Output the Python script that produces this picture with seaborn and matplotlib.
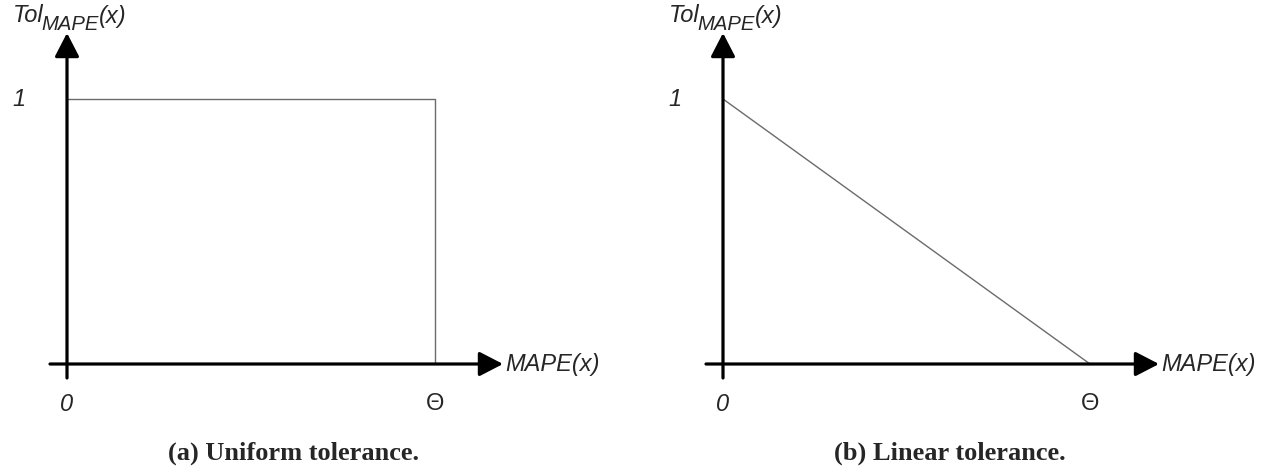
import matplotlib
matplotlib.use("Agg")
import matplotlib.pyplot as plt
from matplotlib.patches import FancyArrowPatch
import numpy as np
import pandas as pd
import seaborn as sns

sns.set_theme(style="white")
plt.rcParams["font.family"] = ["Liberation Sans", "DejaVu Sans"]

# Tolerance functions, MAPE expressed as a fraction of the threshold Θ
uniform_x = [0.0, 1.0, 1.0]
uniform_y = [1.0, 1.0, 0.0]
linear_x = [0.0, 1.0]
linear_y = [1.0, 0.0]

captions = ["(a) Uniform tolerance.", "(b) Linear tolerance."]
y_label_parts = ["Tol", "MAPE", "(x)"]
x_label = "MAPE(x)"
tick_zero = "0"
tick_theta = "Θ"
tick_one = "1"

W, H = 1278, 473
fig = plt.figure(figsize=(W / 100, H / 100), dpi=100)
renderer = fig.canvas.get_renderer()

LINE_COLOR = "#6b6b6b"
FS = 17


def px_text(x, y, s, **kw):
    """Place text at a pixel position measured from the top-left corner."""
    return fig.text(x / W, 1 - y / H, s, **kw)


def axis_title(x_px):
    # "Tol" with a large subscript "MAPE", followed by "(x)"
    t1 = px_text(x_px, 22, y_label_parts[0], fontsize=FS, style="italic",
                 va="baseline", ha="left")
    w1 = t1.get_window_extent(renderer).width
    t2 = px_text(x_px + w1 - 2, 30, y_label_parts[1], fontsize=FS * 0.86,
                 style="italic", va="baseline", ha="left")
    w2 = t2.get_window_extent(renderer).width
    px_text(x_px + w1 + w2 - 2, 23, y_label_parts[2], fontsize=FS,
            style="italic", va="baseline", ha="left")


def panel(x0_px, theta_px, xs, ys, caption, caption_x):
    y0_px, y1_px = 364, 99
    ax = fig.add_axes([x0_px / W, (H - y0_px) / H,
                       (theta_px - x0_px) / W, (y0_px - y1_px) / H])
    ax.set_xlim(0, 1)
    ax.set_ylim(0, 1)
    ax.axis("off")
    sx = theta_px - x0_px
    sy = y0_px - y1_px

    df = pd.DataFrame({"x": xs, "y": ys})
    sns.lineplot(data=df, x="x", y="y", sort=False, estimator=None, ax=ax,
                 color=LINE_COLOR, linewidth=1.0, clip_on=False)

    # coordinate axes with arrowheads
    style = "-|>,head_length=14.5,head_width=7.5"
    xa = FancyArrowPatch((-17 / sx, 0), (436 / sx, 0),
                         arrowstyle=style, mutation_scale=1, lw=2.3,
                         color="black", shrinkA=0, shrinkB=0, clip_on=False,
                         zorder=5)
    ya = FancyArrowPatch((0, -14 / sy), (0, (y0_px - 33) / sy),
                         arrowstyle=style, mutation_scale=1, lw=2.3,
                         color="black", shrinkA=0, shrinkB=0, clip_on=False,
                         zorder=5)
    ax.add_patch(xa)
    ax.add_patch(ya)

    ax.text(438 / sx, 0, x_label, fontsize=FS, style="italic",
            ha="left", va="center")
    ax.text(-55 / sx, 1.0, tick_one, fontsize=FS, style="italic",
            ha="left", va="center")
    ax.text(0, -40 / sy, tick_zero, fontsize=FS, style="italic",
            ha="center", va="center")
    ax.text(1.0, -40 / sy, tick_theta, fontsize=FS,
            ha="center", va="center")
    axis_title(x0_px - 54)

    px_text(caption_x, 453, caption, fontsize=19, fontweight="bold",
            family="Liberation Serif", ha="center", va="center")


panel(67, 435, uniform_x, uniform_y, captions[0], 293)
panel(723, 1090, linear_x, linear_y, captions[1], 950)

fig.savefig("out.png", dpi=100)
